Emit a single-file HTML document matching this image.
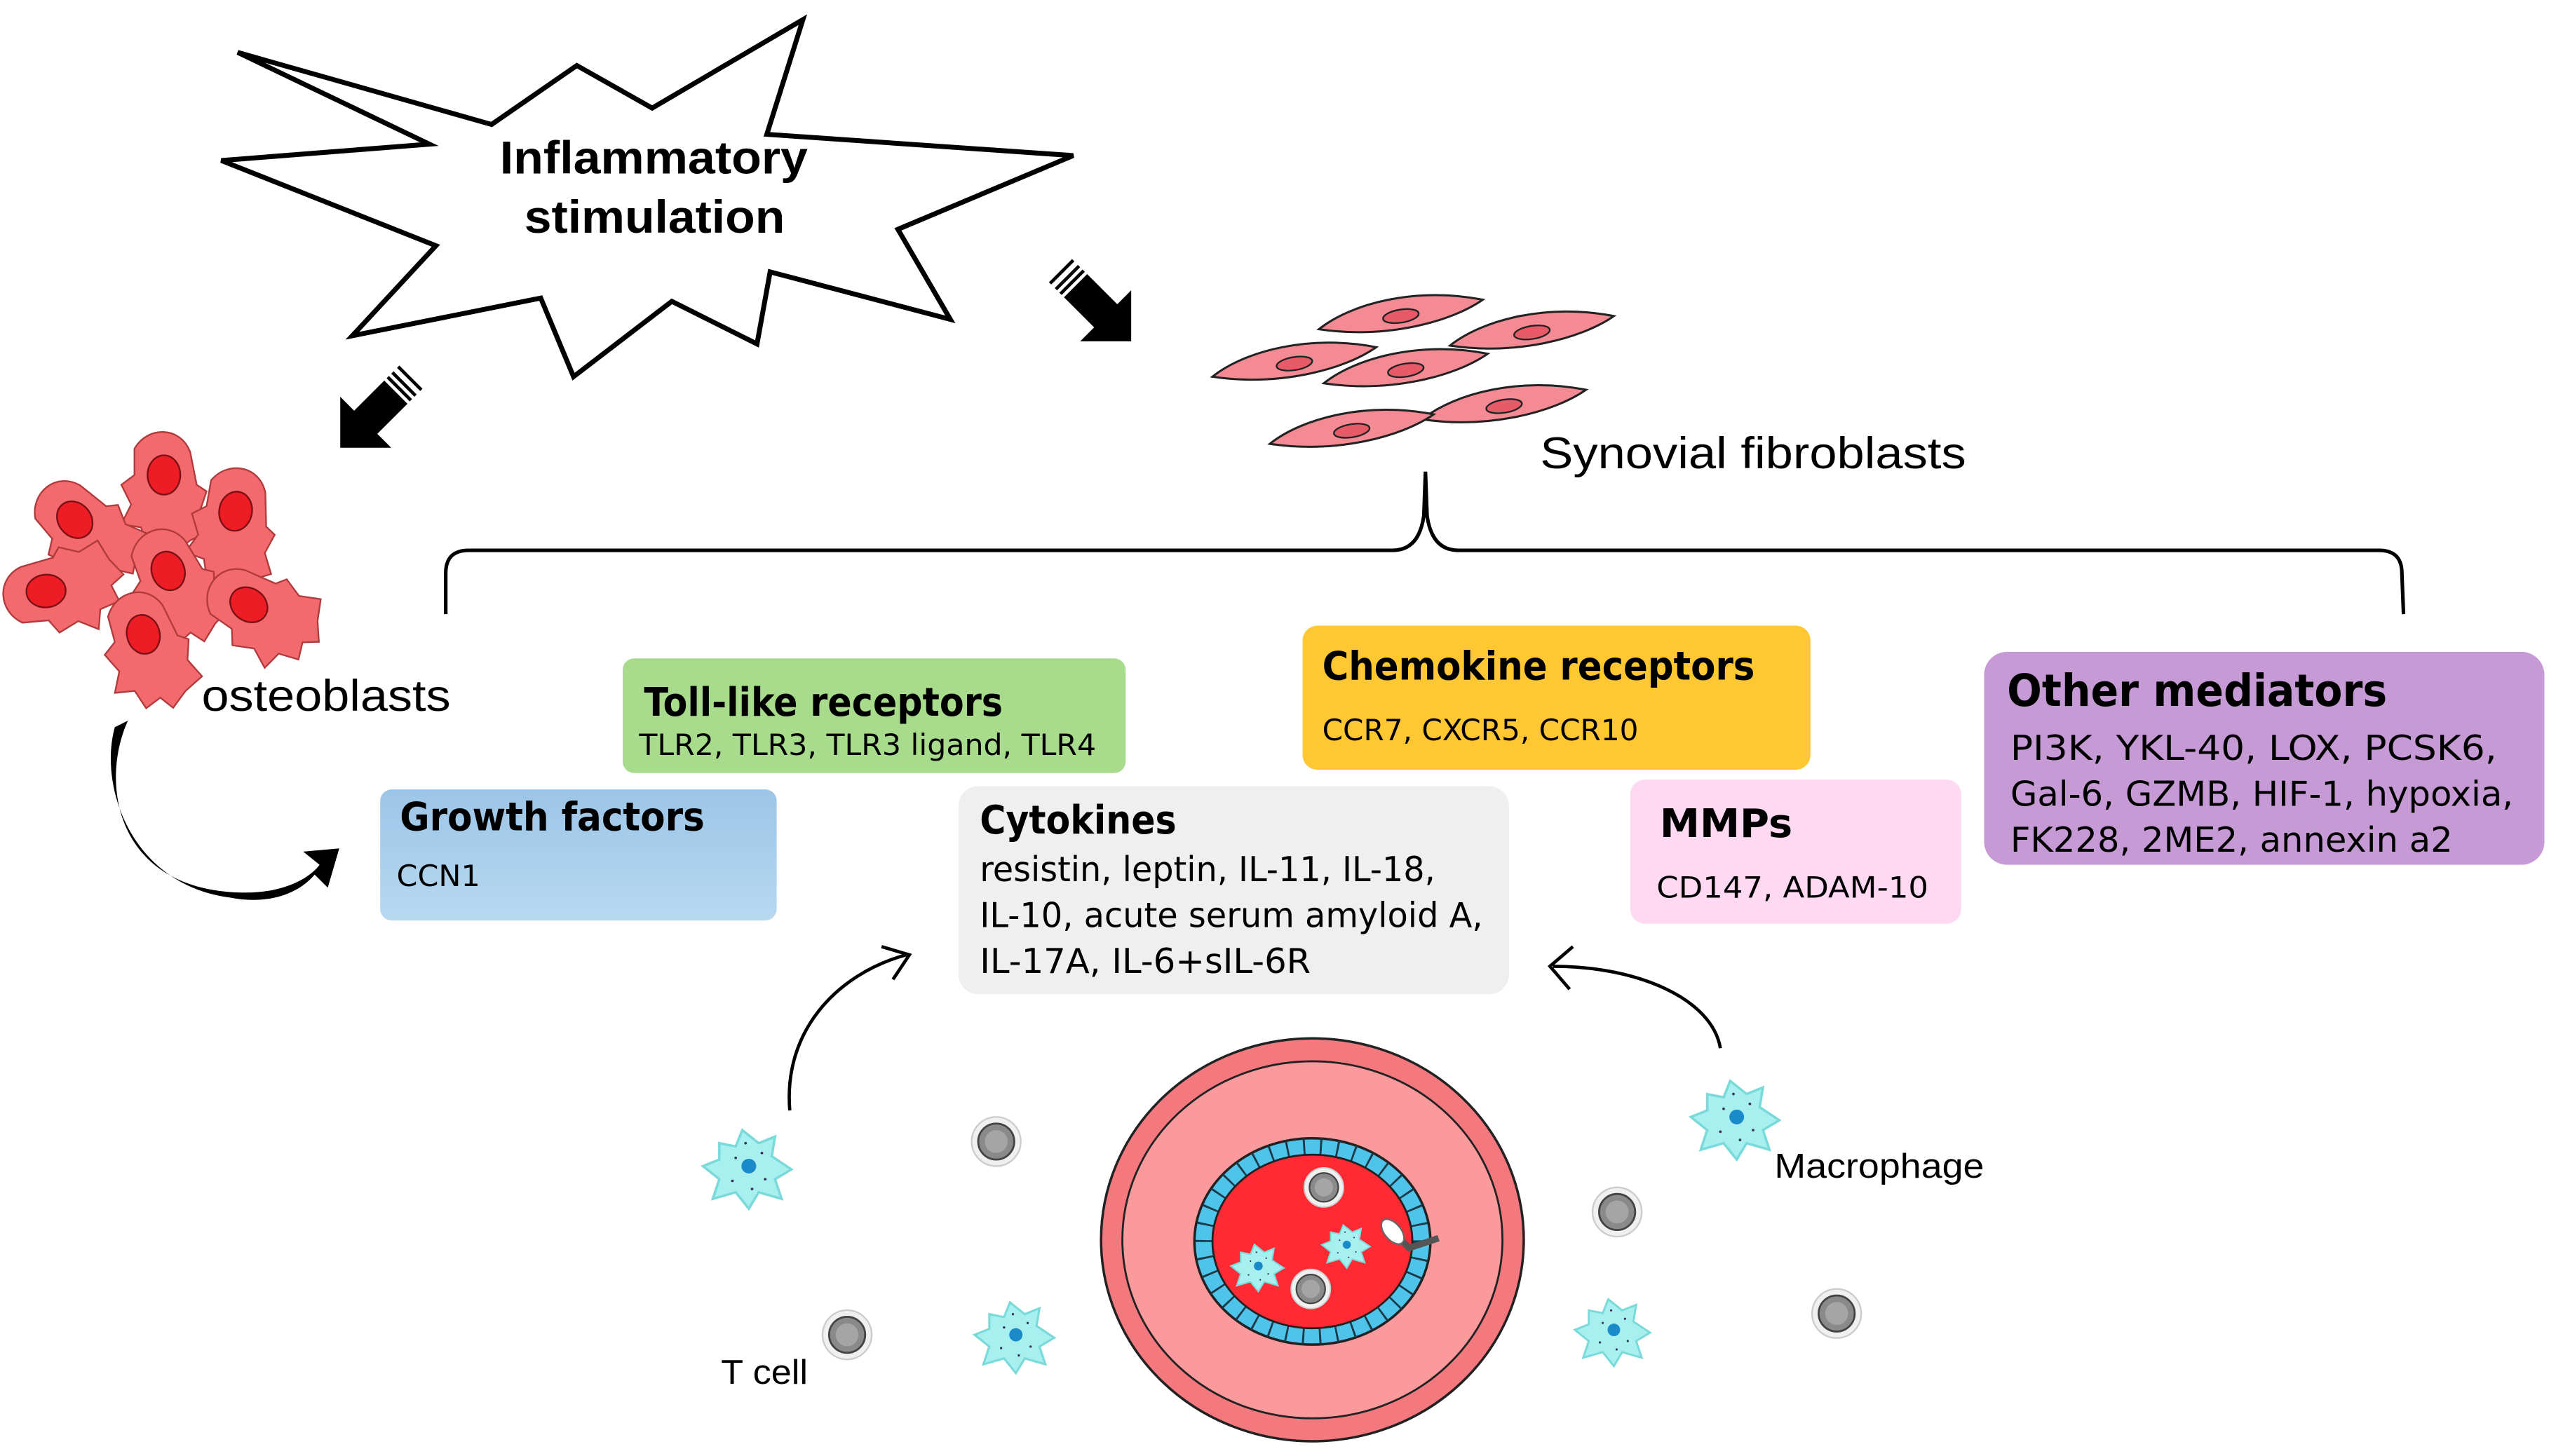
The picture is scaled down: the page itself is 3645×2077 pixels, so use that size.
<!DOCTYPE html>
<html><head><meta charset="utf-8"><style>
html,body{margin:0;padding:0;background:#fff;}
svg{display:block;}
text{font-family:"Liberation Sans",sans-serif;}
.c{font-family:"DejaVu Sans Condensed","Liberation Sans Narrow","Liberation Sans",sans-serif;}
</style></head><body>
<svg width="3645" height="2077" viewBox="0 0 1560 889" xmlns="http://www.w3.org/2000/svg">
<defs>
<linearGradient id="gb" x1="0" y1="0" x2="0" y2="1"><stop offset="0" stop-color="#9cc5e6"/><stop offset="1" stop-color="#b8d8f0"/></linearGradient>
<g id="mac"><path d="M-18,-14 L-8,-12 L-4,-22 L6,-14 L16,-18 L14,-6 L26,2 L16,8 L20,20 L6,16 L0,26 L-8,16 L-22,20 L-18,8 L-28,0 L-18,-4 Z" fill="#a8f0f0" stroke="#7adada" stroke-width="1.5"/><circle r="4.5" fill="#1a8ac8"/><g fill="#335" ><circle cx="-8" cy="-5" r="0.8"/><circle cx="8" cy="-8" r="0.8"/><circle cx="10" cy="8" r="0.8"/><circle cx="-10" cy="9" r="0.8"/><circle cx="2" cy="14" r="0.8"/><circle cx="-2" cy="-14" r="0.8"/></g></g>
<g id="gc"><circle r="15" fill="#f0f0f0" stroke="#ccc"/><circle r="11" fill="#8a8a8a" stroke="#444" stroke-width="1.2"/><circle r="7" fill="#a5a5a5"/></g>
<g id="fib"><path d="M-50,8 C-30,-8 10,-18 50,-10 C30,4 -10,14 -50,8 Z" fill="#f48a94" stroke="#222" stroke-width="1.3"/><ellipse rx="11" ry="4" transform="rotate(-9)" fill="#e85a68" stroke="#222" stroke-width="1"/></g>
<g id="ost"><path d="M-18,-26 C-10,-40 10,-40 16,-24 L20,-4 L26,0 L22,12 L28,24 L16,30 L6,38 L0,30 L-10,34 L-14,22 L-26,20 L-20,8 L-26,-4 L-18,-10 Z" fill="#f26a6e" stroke="#b03a3c" stroke-width="1"/><ellipse cx="0" cy="-10" rx="10" ry="12" fill="#ee1c24" stroke="#7a1015" stroke-width="1"/></g>
</defs>
<rect width="1560" height="889" fill="#fff"/>
<polygon points="145,32 300,76 352,40 398,66 490,12 468,82 655,95 548,140 580,195 470,166 462,210 410,184 350,230 330,182 215,205 266,150 135,98 262,88" fill="#fff" stroke="#000" stroke-width="3" stroke-linejoin="miter"/>
<text x="305" y="106" font-size="28" font-weight="bold" textLength="188" lengthAdjust="spacingAndGlyphs">Inflammatory</text>
<text x="320" y="142" font-size="28" font-weight="bold" textLength="159" lengthAdjust="spacingAndGlyphs">stimulation</text>
<g transform="translate(226,255) rotate(135)">
<polygon points="-22,-10 4,-10 4,-22 26,0 4,22 4,10 -22,10" fill="#000"/>
<g stroke="#000" stroke-width="2"><line x1="-34" y1="-10" x2="-34" y2="10"/><line x1="-29" y1="-10" x2="-29" y2="10"/><line x1="-25" y1="-10" x2="-25" y2="10"/></g>
</g>
<g transform="translate(672,190) rotate(45)">
<polygon points="-22,-10 4,-10 4,-22 26,0 4,22 4,10 -22,10" fill="#000"/>
<g stroke="#000" stroke-width="2"><line x1="-34" y1="-10" x2="-34" y2="10"/><line x1="-29" y1="-10" x2="-29" y2="10"/><line x1="-25" y1="-10" x2="-25" y2="10"/></g>
</g>
<use href="#fib" transform="translate(855,193)"/>
<use href="#fib" transform="translate(935,203)"/>
<use href="#fib" transform="translate(790,222)"/>
<use href="#fib" transform="translate(858,226)"/>
<use href="#fib" transform="translate(918,248)"/>
<use href="#fib" transform="translate(825,263)"/>
<text x="940" y="286" font-size="27" textLength="260" lengthAdjust="spacingAndGlyphs">Synovial fibroblasts</text>
<path d="M272,375 L272,350 Q272,336 286,336 L850,336 Q866,336 869,315 L870,288 L871,315 Q874,336 890,336 L1452,336 Q1466,336 1466,350 L1467,375" fill="none" stroke="#000" stroke-width="2.2"/>
<use href="#ost" transform="translate(100,300)"/>
<use href="#ost" transform="translate(52,325) rotate(-40)"/>
<use href="#ost" transform="translate(142,322) rotate(10)"/>
<use href="#ost" transform="translate(38,360) rotate(-95)"/>
<use href="#ost" transform="translate(106,358) rotate(-20)"/>
<use href="#ost" transform="translate(160,375) rotate(-55)"/>
<use href="#ost" transform="translate(90,397) rotate(-15)"/>
<text x="123" y="434" font-size="27" textLength="152" lengthAdjust="spacingAndGlyphs">osteoblasts</text>
<path d="M78,440 C60,480 72,545 150,545 C175,545 190,535 195,528 L185,520 L207,518 L200,542 L192,534 C180,548 160,552 140,548 C80,540 60,480 70,444 Z" fill="#000"/>
<rect x="380" y="402" width="307" height="70" rx="7" fill="#a8dc8c"/>
<text class="c" x="393" y="437" font-size="24" font-weight="bold" textLength="219" lengthAdjust="spacingAndGlyphs">Toll-like receptors</text>
<text class="c" x="390" y="461" font-size="18" textLength="279" lengthAdjust="spacingAndGlyphs">TLR2, TLR3, TLR3 ligand, TLR4</text>
<rect x="232" y="482" width="242" height="80" rx="7" fill="url(#gb)"/>
<text class="c" x="244" y="507" font-size="24" font-weight="bold" textLength="186" lengthAdjust="spacingAndGlyphs">Growth factors</text>
<text class="c" x="242" y="541" font-size="18" textLength="51" lengthAdjust="spacingAndGlyphs">CCN1</text>
<rect x="585" y="480" width="336" height="127" rx="12" fill="#efefef"/>
<text class="c" x="598" y="509" font-size="24" font-weight="bold" textLength="120" lengthAdjust="spacingAndGlyphs">Cytokines</text>
<text class="c" x="598" y="538" font-size="21" textLength="278" lengthAdjust="spacingAndGlyphs">resistin, leptin, IL-11, IL-18,</text>
<text class="c" x="598" y="566" font-size="21" textLength="307" lengthAdjust="spacingAndGlyphs">IL-10, acute serum amyloid A,</text>
<text class="c" x="598" y="594" font-size="21" textLength="202" lengthAdjust="spacingAndGlyphs">IL-17A, IL-6+sIL-6R</text>
<rect x="795" y="382" width="310" height="88" rx="9" fill="#ffc832"/>
<text class="c" x="807" y="415" font-size="24" font-weight="bold" textLength="264" lengthAdjust="spacingAndGlyphs">Chemokine receptors</text>
<text class="c" x="807" y="452" font-size="18" textLength="193" lengthAdjust="spacingAndGlyphs">CCR7, CXCR5, CCR10</text>
<rect x="995" y="476" width="202" height="88" rx="9" fill="#ffd8f2"/>
<text class="c" x="1013" y="511" font-size="24" font-weight="bold" textLength="81" lengthAdjust="spacingAndGlyphs">MMPs</text>
<text class="c" x="1011" y="548" font-size="18" textLength="166" lengthAdjust="spacingAndGlyphs">CD147, ADAM-10</text>
<rect x="1211" y="398" width="342" height="130" rx="14" fill="#c69ad5"/>
<text class="c" x="1225" y="431" font-size="27" font-weight="bold" textLength="232" lengthAdjust="spacingAndGlyphs">Other mediators</text>
<text class="c" x="1227" y="464" font-size="21" textLength="297" lengthAdjust="spacingAndGlyphs">PI3K, YKL-40, LOX, PCSK6,</text>
<text class="c" x="1227" y="492" font-size="21" textLength="307" lengthAdjust="spacingAndGlyphs">Gal-6, GZMB, HIF-1, hypoxia,</text>
<text class="c" x="1227" y="520" font-size="21" textLength="270" lengthAdjust="spacingAndGlyphs">FK228, 2ME2, annexin a2</text>
<path d="M482,678 C478,630 510,595 553,583" fill="none" stroke="#000" stroke-width="2"/>
<path d="M538,578 L555,583 L545,598" fill="none" stroke="#000" stroke-width="2"/>
<path d="M1050,640 C1045,610 1000,590 948,590" fill="none" stroke="#000" stroke-width="2"/>
<path d="M960,578 L946,590 L958,604" fill="none" stroke="#000" stroke-width="2"/>
<ellipse cx="801" cy="757" rx="129" ry="123" fill="#f3797f" stroke="#222" stroke-width="1.5"/>
<ellipse cx="801" cy="757" rx="116" ry="109" fill="#fb9a9c" stroke="#222" stroke-width="1.2"/>
<ellipse cx="801" cy="758" rx="72" ry="63" fill="#4ec4ea" stroke="#222" stroke-width="1.5"/>
<ellipse cx="801" cy="758" rx="66" ry="57.5" fill="none" stroke="#1a3a4a" stroke-width="11" stroke-dasharray="1.2 9"/>
<ellipse cx="801" cy="758" rx="61" ry="53" fill="#ff2a33" stroke="#222" stroke-width="1.2"/>
<use href="#gc" transform="translate(808,725) scale(0.8)"/>
<use href="#gc" transform="translate(800,787) scale(0.8)"/>
<use href="#mac" transform="translate(768,773) scale(0.6)"/>
<use href="#mac" transform="translate(822,760) scale(0.55)"/>
<path d="M846,748 L860,762 L878,756" fill="none" stroke="#555" stroke-width="4"/>
<ellipse cx="850" cy="752" rx="5" ry="9" fill="#fff" stroke="#666" transform="rotate(-40 850 752)"/>
<use href="#gc" transform="translate(608,697)"/>
<use href="#gc" transform="translate(517,815)"/>
<use href="#gc" transform="translate(987,740)"/>
<use href="#gc" transform="translate(1121,802)"/>
<use href="#mac" transform="translate(457,712)"/>
<use href="#mac" transform="translate(620,815) scale(0.9)"/>
<use href="#mac" transform="translate(985,812) scale(0.85)"/>
<use href="#mac" transform="translate(1060,682)"/>
<text x="440" y="845" font-size="21" textLength="53" lengthAdjust="spacingAndGlyphs">T cell</text>
<text x="1083" y="719" font-size="21" textLength="128" lengthAdjust="spacingAndGlyphs">Macrophage</text>
</svg>
</body></html>
